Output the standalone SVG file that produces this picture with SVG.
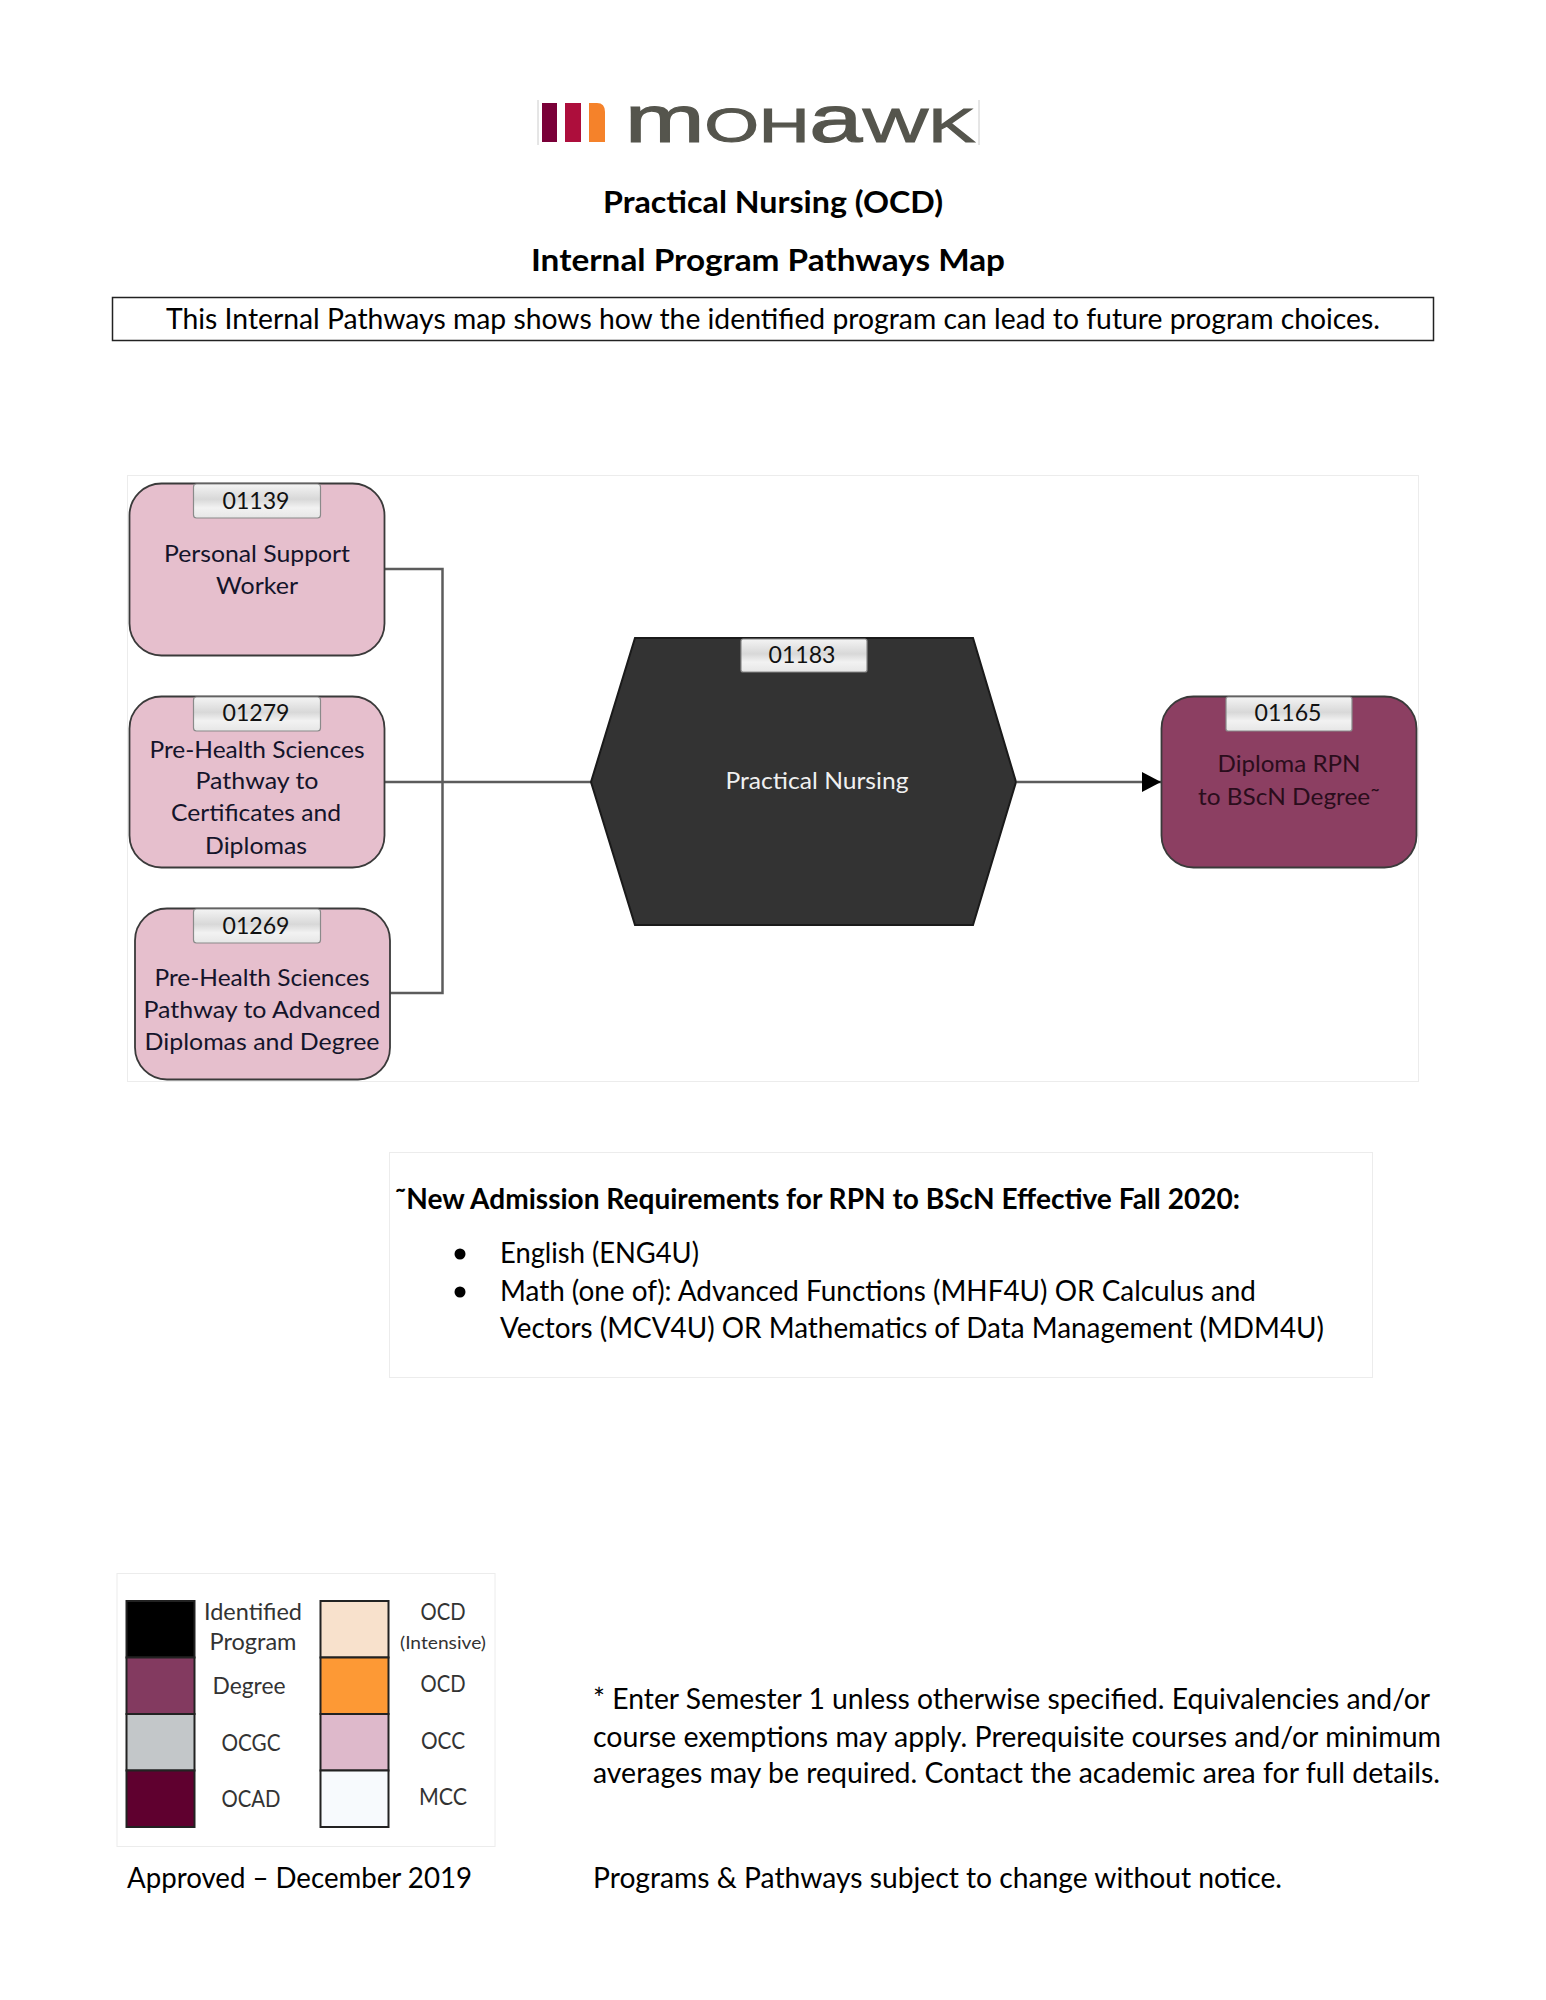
<svg xmlns="http://www.w3.org/2000/svg" width="1546" height="2000" viewBox="0 0 1546 2000">
<style>
text{font-family:"Lato","Liberation Sans",sans-serif;fill:#000}
.b{font-weight:700;font-size:31px}
.p{font-size:28px}
.n{font-size:24px;fill:#14142a;text-anchor:middle}
.c{font-size:23px;fill:#111;text-anchor:middle}
.l{font-size:23px;fill:#333;text-anchor:middle}
.box{stroke:#3a3a3a;stroke-width:1.8}
.pink{fill:#e6bfcd}
.badge{fill:url(#g);stroke:#8a8a8a;stroke-width:1.2}
.frame{fill:none;stroke:#ececec;stroke-width:1}
.sw{stroke:#222;stroke-width:2}
.con{fill:none;stroke:#5c5c5c;stroke-width:2.500}
</style>
<defs>
<linearGradient id="g" x1="0" y1="0" x2="0" y2="1"><stop offset="0" stop-color="#f4f4f4"/><stop offset=".45" stop-color="#d8d8d8"/><stop offset=".7" stop-color="#f2f2f2"/><stop offset="1" stop-color="#e6e6e6"/></linearGradient>
<marker id="arr" markerUnits="userSpaceOnUse" markerWidth="19" markerHeight="20" refX="19" refY="10" orient="auto"><path d="M0 0L19 10L0 20Z" fill="#000"/></marker>
</defs>
<rect width="1546" height="2000" fill="#fff"/>
<g id="logo">
<path d="M538 100V145M979 100V145" stroke="#ccc" stroke-width="1"/>
<rect x="542" y="103" width="15" height="39" fill="#7a0038"/>
<rect x="565" y="103" width="16" height="39" fill="#ad0e3c"/>
<path d="M589 103H597Q605 103 605 112V142H589Z" fill="#f5822a"/>
<text x="625" y="142" font-size="49" textLength="350" lengthAdjust="spacingAndGlyphs" stroke="#55554d" stroke-width="1.200" style="font-family:'Liberation Sans',sans-serif;fill:#55554d"><tspan font-size="67">m</tspan>OH<tspan font-size="67">a</tspan>WK</text>
</g>
<g id="heading">
<text class="b" x="603" y="213" textLength="340" lengthAdjust="spacingAndGlyphs">Practical Nursing (OCD)</text>
<text class="b" x="531" y="271" textLength="474" lengthAdjust="spacingAndGlyphs">Internal Program Pathways Map</text>
<rect x="112.500" y="297.500" width="1321" height="43" fill="none" stroke="#222" stroke-width="1.500"/>
<text class="p" x="166" y="329" textLength="1214" lengthAdjust="spacingAndGlyphs">This Internal Pathways map shows how the identified program can lead to future program choices.</text>
</g>
<rect id="map-frame" class="frame" x="127.500" y="475.500" width="1291" height="606"/>
<g id="connectors">
<path class="con" d="M385 569H442.500V993H390"/>
<path class="con" d="M385 782H591"/>
<path class="con" d="M1017 782H1161" marker-end="url(#arr)"/>
</g>
<g id="node-01139">
<rect class="box pink" x="129.500" y="483.500" width="255" height="172" rx="32"/>
<rect class="badge" x="193.500" y="484" width="127" height="34" rx="3"/>
<text class="c" x="256" y="509" textLength="67" lengthAdjust="spacingAndGlyphs">01139</text>
<text class="n" x="257" y="562" textLength="186" lengthAdjust="spacingAndGlyphs">Personal Support</text>
<text class="n" x="257" y="594" textLength="82" lengthAdjust="spacingAndGlyphs">Worker</text>
</g>
<g id="node-01279">
<rect class="box pink" x="129.500" y="696.500" width="255" height="171" rx="32"/>
<rect class="badge" x="193.500" y="697" width="127" height="34" rx="3"/>
<text class="c" x="256" y="721" textLength="67" lengthAdjust="spacingAndGlyphs">01279</text>
<text class="n" x="257" y="758" textLength="215" lengthAdjust="spacingAndGlyphs">Pre-Health Sciences</text>
<text class="n" x="257" y="789" textLength="123" lengthAdjust="spacingAndGlyphs">Pathway to</text>
<text class="n" x="256" y="821" textLength="170" lengthAdjust="spacingAndGlyphs">Certificates and</text>
<text class="n" x="256" y="854" textLength="102" lengthAdjust="spacingAndGlyphs">Diplomas</text>
</g>
<g id="node-01269">
<rect class="box pink" x="135" y="908.500" width="255" height="171" rx="32"/>
<rect class="badge" x="193.500" y="909" width="127" height="34" rx="3"/>
<text class="c" x="256" y="934" textLength="67" lengthAdjust="spacingAndGlyphs">01269</text>
<text class="n" x="262" y="986" textLength="215" lengthAdjust="spacingAndGlyphs">Pre-Health Sciences</text>
<text class="n" x="262" y="1018" textLength="237" lengthAdjust="spacingAndGlyphs">Pathway to Advanced</text>
<text class="n" x="262" y="1050" textLength="235" lengthAdjust="spacingAndGlyphs">Diplomas and Degree</text>
</g>
<g id="node-01183">
<path d="M635 638H973L1016 782L973 925H635L591 782Z" fill="#333" stroke="#1a1a1a" stroke-width="2"/>
<rect class="badge" x="741" y="639" width="126" height="33" rx="2"/>
<text class="c" x="802" y="663" textLength="67" lengthAdjust="spacingAndGlyphs">01183</text>
<text class="n" x="817" y="789" textLength="183" lengthAdjust="spacingAndGlyphs" style="fill:#f0f0f0">Practical Nursing</text>
</g>
<g id="node-01165">
<rect class="box" fill="#8c3f62" x="1161.500" y="696.500" width="255" height="171" rx="32"/>
<rect class="badge" x="1226" y="697" width="126" height="34" rx="2"/>
<text class="c" x="1288" y="721" textLength="67" lengthAdjust="spacingAndGlyphs">01165</text>
<text class="n" x="1289" y="772" textLength="143" lengthAdjust="spacingAndGlyphs" style="fill:#2a0d1c">Diploma RPN</text>
<text class="n" x="1289" y="805" textLength="182" lengthAdjust="spacingAndGlyphs" style="fill:#2a0d1c">to BScN Degree˜</text>
</g>
<g id="requirements">
<rect class="frame" x="389.500" y="1152.500" width="983" height="225"/>
<text class="b" x="395" y="1209" style="font-size:28px" textLength="845" lengthAdjust="spacingAndGlyphs">˜New Admission Requirements for RPN to BScN Effective Fall 2020:</text>
<circle cx="460" cy="1254" r="5.500"/>
<circle cx="460" cy="1292" r="5.500"/>
<text class="p" x="500" y="1263" textLength="199" lengthAdjust="spacingAndGlyphs">English (ENG4U)</text>
<text class="p" x="500" y="1301" textLength="756" lengthAdjust="spacingAndGlyphs">Math (one of): Advanced Functions (MHF4U) OR Calculus and</text>
<text class="p" x="500" y="1338" textLength="824" lengthAdjust="spacingAndGlyphs">Vectors (MCV4U) OR Mathematics of Data Management (MDM4U)</text>
</g>
<g id="legend">
<rect class="frame" x="117" y="1573.500" width="378" height="273"/>
<rect class="sw" x="126.500" y="1601" width="68" height="56.500" fill="#000"/>
<rect class="sw" x="126.500" y="1657.500" width="68" height="56.500" fill="#833a60"/>
<rect class="sw" x="126.500" y="1714" width="68" height="56.500" fill="#c3c7c9"/>
<rect class="sw" x="126.500" y="1770.500" width="68" height="56.500" fill="#5f002f"/>
<rect class="sw" x="320.500" y="1601" width="68" height="56.500" fill="#f8e1cc"/>
<rect class="sw" x="320.500" y="1657.500" width="68" height="56.500" fill="#fd9935"/>
<rect class="sw" x="320.500" y="1714" width="68" height="56.500" fill="#deb9cb"/>
<rect class="sw" x="320.500" y="1770.500" width="68" height="56.500" fill="#f7fafd"/>
<text class="l" x="253" y="1620" textLength="98" lengthAdjust="spacingAndGlyphs">Identified</text>
<text class="l" x="253" y="1650" textLength="87" lengthAdjust="spacingAndGlyphs">Program</text>
<text class="l" x="249" y="1694" textLength="73" lengthAdjust="spacingAndGlyphs">Degree</text>
<text class="l" x="251" y="1751" textLength="59" lengthAdjust="spacingAndGlyphs">OCGC</text>
<text class="l" x="251" y="1807" textLength="59" lengthAdjust="spacingAndGlyphs">OCAD</text>
<text class="l" x="443" y="1620" textLength="45" lengthAdjust="spacingAndGlyphs">OCD</text>
<text class="l" x="443" y="1649" style="font-size:18px" textLength="86" lengthAdjust="spacingAndGlyphs">(Intensive)</text>
<text class="l" x="443" y="1692" textLength="45" lengthAdjust="spacingAndGlyphs">OCD</text>
<text class="l" x="443" y="1749" textLength="44" lengthAdjust="spacingAndGlyphs">OCC</text>
<text class="l" x="443" y="1805" textLength="48" lengthAdjust="spacingAndGlyphs">MCC</text>
</g>
<g id="notes">
<text class="p" x="593" y="1709" textLength="837" lengthAdjust="spacingAndGlyphs">* Enter Semester 1 unless otherwise specified. Equivalencies and/or</text>
<text class="p" x="593" y="1747" textLength="848" lengthAdjust="spacingAndGlyphs">course exemptions may apply. Prerequisite courses and/or minimum</text>
<text class="p" x="593" y="1783" textLength="847" lengthAdjust="spacingAndGlyphs">averages may be required. Contact the academic area for full details.</text>
<text class="p" x="127" y="1888" textLength="345" lengthAdjust="spacingAndGlyphs">Approved – December 2019</text>
<text class="p" x="593" y="1888" textLength="689" lengthAdjust="spacingAndGlyphs">Programs &amp; Pathways subject to change without notice.</text>
</g>
</svg>
